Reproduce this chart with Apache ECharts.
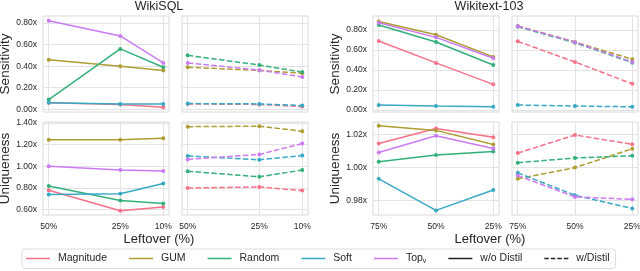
<!DOCTYPE html>
<html>
<head>
<meta charset="utf-8">
<script src="https://cdn.jsdelivr.net/npm/echarts@6/dist/echarts.min.js"></script>
<style>
html,body{margin:0;padding:0;background:#fff;}
#chart{width:640px;height:271px;}
</style>
</head>
<body>
<div id="chart"></div>
<script>
// ---- data ----
const methods = ['Magnitude', 'GUM', 'Random', 'Soft', 'Top_v'];
const sqlLeftover = [50, 25, 10];
const wtLeftover = [75, 50, 25];
const sensTicks = [0, 0.2, 0.4, 0.6, 0.8];
const sqlUniqTicks = [0.6, 0.8, 1.0, 1.2, 1.4];
const wtUniqTicks = [0.98, 1.00, 1.02];

// rows: Magnitude, GUM, Random, Soft, Top_v ; columns follow the leftover arrays
const sqlSensNoDistil = [
  [0.06, 0.045, 0.02],
  [0.46, 0.40, 0.36],
  [0.09, 0.56, 0.39],
  [0.06, 0.05, 0.05],
  [0.82, 0.68, 0.43]
];
const sqlSensDistil = [
  [0.05, 0.045, 0.025],
  [0.39, 0.36, 0.335],
  [0.50, 0.41, 0.345],
  [0.053, 0.05, 0.035],
  [0.43, 0.364, 0.30]
];
const sqlUniqNoDistil = [
  [0.78, 0.59, 0.624],
  [1.245, 1.245, 1.26],
  [0.818, 0.685, 0.657],
  [0.74, 0.748, 0.842],
  [1.00, 0.966, 0.957]
];
const sqlUniqDistil = [
  [0.80, 0.81, 0.776],
  [1.366, 1.37, 1.324],
  [0.955, 0.903, 0.966],
  [1.096, 1.06, 1.10],
  [1.064, 1.11, 1.21]
];
const wtSensNoDistil = [
  [0.69, 0.47, 0.255],
  [0.885, 0.752, 0.53],
  [0.85, 0.68, 0.449],
  [0.048, 0.038, 0.03],
  [0.873, 0.726, 0.516]
];
const wtSensDistil = [
  [0.686, 0.479, 0.26],
  [0.84, 0.68, 0.506],
  [0.833, 0.672, 0.472],
  [0.048, 0.038, 0.03],
  [0.838, 0.678, 0.479]
];
const wtUniqNoDistil = [
  [1.0144, 1.0236, 1.0182],
  [1.0252, 1.0224, 1.0138],
  [1.0034, 1.0074, 1.0096],
  [0.993, 0.9738, 0.9862],
  [1.009, 1.0192, 1.0114]
];
const wtUniqDistil = [
  [1.0086, 1.0196, 1.014],
  [0.993, 0.9998, 1.0112],
  [1.0028, 1.0056, 1.007],
  [0.9966, 0.983, 0.975],
  [0.995, 0.982, 0.9805]
];

// ---- styling / layout ----
const colors = ['#f77189', '#ae9d31', '#33b07a', '#38a9c5', '#cc79f4'];
const gridColor = '#e3e3e3';
const textColor = '#262626';
const font = "'Liberation Sans', Arial, Helvetica, sans-serif";

const panels = [
  {rect:[43,16,126,96],  xs:sqlLeftover, xr:[8,52],     yr:[-0.025,0.865], yt:sensTicks,    data:sqlSensNoDistil, dashed:false, xl:false, yl:true,  name:'Sensitivity', gap:28},
  {rect:[182,16,126,96], xs:sqlLeftover, xr:[8,52],     yr:[-0.025,0.865], yt:sensTicks,    data:sqlSensDistil,   dashed:true,  xl:false, yl:false},
  {rect:[43,122,126,93], xs:sqlLeftover, xr:[8,52],     yr:[0.551,1.409],  yt:sqlUniqTicks, data:sqlUniqNoDistil, dashed:false, xl:true,  yl:true,  name:'Uniqueness', gap:28},
  {rect:[182,122,126,93],xs:sqlLeftover, xr:[8,52],     yr:[0.551,1.409],  yt:sqlUniqTicks, data:sqlUniqDistil,   dashed:true,  xl:true,  yl:false},
  {rect:[373,16,126,96], xs:wtLeftover,  xr:[22.5,77.5],yr:[-0.022,0.94],  yt:sensTicks,    data:wtSensNoDistil,  dashed:false, xl:false, yl:true,  name:'Sensitivity', gap:29},
  {rect:[512,16,126,96], xs:wtLeftover,  xr:[22.5,77.5],yr:[-0.022,0.94],  yt:sensTicks,    data:wtSensDistil,    dashed:true,  xl:false, yl:false},
  {rect:[373,122,126,93],xs:wtLeftover,  xr:[22.5,77.5],yr:[0.971,1.0275], yt:wtUniqTicks,  data:wtUniqNoDistil,  dashed:false, xl:true,  yl:true,  name:'Uniqueness', gap:29},
  {rect:[512,122,126,93],xs:wtLeftover,  xr:[22.5,77.5],yr:[0.971,1.0275], yt:wtUniqTicks,  data:wtUniqDistil,    dashed:true,  xl:true,  yl:false}
];

const grid = [], xAxis = [], yAxis = [], series = [];
panels.forEach((p, i) => {
  grid.push({left:p.rect[0], top:p.rect[1], width:p.rect[2], height:p.rect[3],
    outerBoundsMode:'none', containLabel:false,
    show:true, borderColor:'#dadada', borderWidth:1, backgroundColor:'#fff'});
  xAxis.push({type:'value', gridIndex:i, inverse:true, min:p.xr[0], max:p.xr[1],
    axisLine:{show:false},
    axisTick:{show:false, customValues:p.xs},
    axisLabel:{show:p.xl, customValues:p.xs, formatter:v=>v+'%', margin:7,
      fontSize:8.5, color:textColor, fontFamily:font, hideOverlap:false},
    splitLine:{show:true, lineStyle:{color:gridColor, width:1}}
  });
  yAxis.push({type:'value', gridIndex:i, min:p.yr[0], max:p.yr[1],
    axisLine:{show:false},
    axisTick:{show:false, customValues:p.yt},
    axisLabel:{show:p.yl, customValues:p.yt, formatter:v=>v.toFixed(2)+'x', margin:6,
      fontSize:8.5, color:textColor, fontFamily:font},
    splitLine:{show:true, lineStyle:{color:gridColor, width:1}},
    name:p.name || '', nameLocation:'middle', nameGap:p.gap || 0,
    nameTextStyle:{fontSize:13.5, color:textColor, fontFamily:font}
  });
  methods.forEach((m, k) => {
    series.push({
      type:'line', name:m, xAxisIndex:i, yAxisIndex:i,
      data:p.xs.map((x, j) => [x, p.data[k][j]]),
      color:colors[k],
      symbol:'circle', symbolSize:4,
      lineStyle:{width:1.5, color:colors[k], type:p.dashed ? [5.5, 2.4] : 'solid'},
      itemStyle:{color:colors[k]},
      silent:true, animation:false, z:2+k
    });
  });
});
series.push({type:'line', name:'w/o Distil', xAxisIndex:0, yAxisIndex:0, data:[], color:'#222'});
series.push({type:'line', name:'w/Distil', xAxisIndex:0, yAxisIndex:0, data:[], color:'#222'});

const solidIcon = 'path://M0,0h24v1.5h-24z';
const dashIcon = 'path://M0,0h4.5v1.5h-4.5zM6.5,0h4.5v1.5h-4.5zM13,0h4.5v1.5h-4.5zM19.5,0h4.5v1.5h-4.5z';

const option = {
  animation:false,
  backgroundColor:'#fff',
  grid, xAxis, yAxis, series,
  legend:{
    left:22, top:249,
    orient:'horizontal',
    padding:[4,6,4,4],
    borderColor:'#dcdcdc', borderWidth:1, borderRadius:3,
    itemWidth:24, itemHeight:1.5, itemGap:22,
    symbolKeepAspect:false,
    selectedMode:false,
    data:[
      {name:'Magnitude', icon:solidIcon},
      {name:'GUM', icon:solidIcon},
      {name:'Random', icon:solidIcon},
      {name:'Soft', icon:solidIcon},
      {name:'Top_v', icon:solidIcon},
      {name:'w/o Distil', icon:solidIcon},
      {name:'w/Distil', icon:dashIcon}
    ],
    formatter: n => n === 'Top_v' ? 'Top{sub|v}' : n,
    textStyle:{fontSize:10.5, color:textColor, fontFamily:font, padding:[0,0,0,3],
      rich:{sub:{fontSize:7, color:textColor, fontFamily:font, padding:[5,0,0,0]}}}
  },
  graphic:[
    {type:'text', x:159, y:7, style:{text:'WikiSQL', align:'center', verticalAlign:'middle', fontSize:12.5, fill:textColor, fontFamily:font}},
    {type:'text', x:489, y:7, style:{text:'Wikitext-103', align:'center', verticalAlign:'middle', fontSize:12.5, fill:textColor, fontFamily:font}},
    {type:'text', x:159, y:239, style:{text:'Leftover (%)', align:'center', verticalAlign:'middle', fontSize:13, fill:textColor, fontFamily:font}},
    {type:'text', x:490, y:239, style:{text:'Leftover (%)', align:'center', verticalAlign:'middle', fontSize:13, fill:textColor, fontFamily:font}}
  ]
};

const chart = echarts.init(document.getElementById('chart'), null, {renderer:'canvas'});
chart.setOption(option);
</script>
</body>
</html>
